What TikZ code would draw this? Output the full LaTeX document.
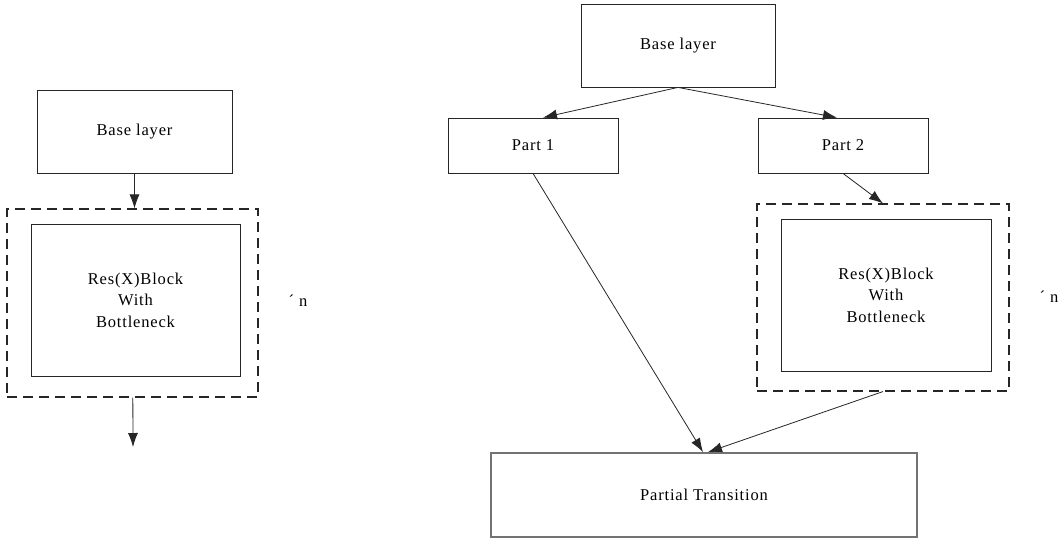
\documentclass[tikz,border=0pt]{standalone}
\usepackage{fontspec}
\setmainfont[LetterSpace=5]{Liberation Serif}
\usepackage{tikz}
\usetikzlibrary{positioning, arrows.meta}

\begin{document}
\begin{tikzpicture}[
        x=1pt, y=-1pt,
        font=\fontsize{16.5}{21.5}\selectfont,
        box/.style={rectangle, draw=black!85, line width=0.8pt, align=center, inner sep=0pt},
        group/.style={rectangle, draw=black!85, line width=1.1pt, dash pattern=on 10pt off 6pt, inner sep=0pt},
        arrow/.style={-{Latex[length=14pt, width=10pt]}, line width=0.8pt, black!85}
    ]
    \useasboundingbox (0,0) rectangle (1064,541);

    % left column
    \node[box, minimum width=195pt, minimum height=83pt] (lbase) at (134.5,131.5) {Base layer};
    \node[group, minimum width=251pt, minimum height=188pt] (lgroup) at (132.5,303) {};
    \node[box, minimum width=209pt, minimum height=152pt] (lres) at (135.5,300) {Res(X)Block\\With\\Bottleneck};
    \node (ltimes) at (298,301) {´ n};
    \coordinate (lout) at (133,447);

    \draw[arrow] (lbase) -- (lgroup.north -| lbase);
    \draw[arrow] (lgroup) -- (lout);

    % right column
    \node[box, minimum width=194pt, minimum height=83pt] (rbase) at (678,45.5) {Base layer};
    \node[box, minimum width=170pt, minimum height=55pt] (part1) at (533,145.5) {Part 1};
    \node[box, minimum width=170pt, minimum height=55pt] (part2) at (843,145.5) {Part 2};
    \node[group, minimum width=252pt, minimum height=187pt] (rgroup) at (883,297.5) {};
    \node[box, minimum width=210pt, minimum height=152pt] (rres) at (886,295) {Res(X)Block\\With\\Bottleneck};
    \node (rtimes) at (1049,297) {´ n};
    \node[box, draw=black!55, line width=1.8pt, minimum width=426pt, minimum height=84pt] (trans) at (704,495) {Partial Transition};

    \draw[arrow] (rbase.south) -- ([xshift=10pt]part1.north);
    \draw[arrow] (rbase.south) -- ([xshift=-6pt]part2.north);
    \draw[arrow] (part2.south) -- (rgroup.north);
    \draw[arrow] (part1.south) -- ([xshift=-1pt]trans.north);
    \draw[arrow] (rgroup.south) -- ([xshift=4pt]trans.north);

\end{tikzpicture}
\end{document}
